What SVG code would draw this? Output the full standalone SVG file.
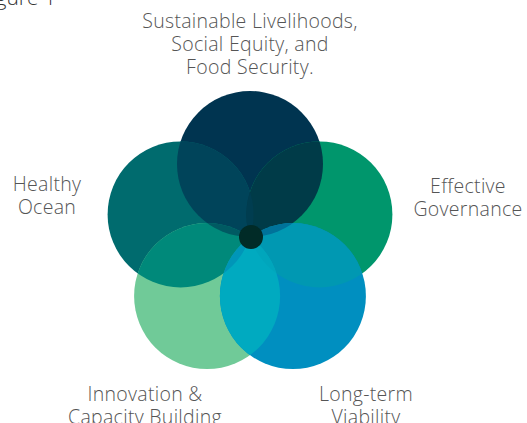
<svg xmlns="http://www.w3.org/2000/svg" width="527" height="423" viewBox="0 0 527 423">
<style>
.lbl{font-family:"Open Sans","Liberation Sans",sans-serif;font-size:19.5px;font-weight:300;letter-spacing:0.3px;fill:#555;text-anchor:middle}
.fig{font-family:"Open Sans","Liberation Sans",sans-serif;font-size:21px;font-weight:300;fill:#333;text-anchor:end}
</style>
<defs>
<clipPath id="cT"><circle cx="250" cy="164" r="73"/></clipPath>
<clipPath id="cR"><circle cx="319.4" cy="214.4" r="73"/></clipPath>
<clipPath id="cBR"><circle cx="292.9" cy="296.1" r="73"/></clipPath>
<clipPath id="cBL"><circle cx="207.1" cy="296.1" r="73"/></clipPath>
<clipPath id="cL"><circle cx="180.6" cy="214.4" r="73"/></clipPath>
</defs>
<rect width="527" height="423" fill="#fff"/>
<text class="fig" x="56" y="5">Figure 1</text>

<g id="node-top">
<circle cx="250" cy="164" r="73" fill="#003450"/>
<text class="lbl" x="250" y="28">Sustainable Livelihoods,</text>
<text class="lbl" x="250" y="51">Social Equity, and</text>
<text class="lbl" x="250" y="74">Food Security.</text>
</g>
<g id="node-right">
<circle cx="319.4" cy="214.4" r="73" fill="#00966c"/>
<text class="lbl" x="468" y="193">Effective</text>
<text class="lbl" x="468" y="216">Governance</text>
</g>
<g id="node-left">
<circle cx="180.6" cy="214.4" r="73" fill="#006b6e"/>
<text class="lbl" x="47" y="191">Healthy</text>
<text class="lbl" x="47" y="214">Ocean</text>
</g>
<g id="node-bottom-left">
<circle cx="207.1" cy="296.1" r="73" fill="#70ca98"/>
<text class="lbl" x="145" y="401">Innovation &amp;</text>
<text class="lbl" x="145" y="424">Capacity Building</text>
</g>
<g id="node-bottom-right">
<circle cx="292.9" cy="296.1" r="73" fill="#008fc0"/>
<text class="lbl" x="366" y="401">Long-term</text>
<text class="lbl" x="366" y="424">Viability</text>
</g>

<g id="overlaps">
<circle cx="180.6" cy="214.4" r="73" fill="#00445a" clip-path="url(#cT)"/>
<circle cx="319.4" cy="214.4" r="73" fill="#003b48" clip-path="url(#cT)"/>
<circle cx="207.1" cy="296.1" r="73" fill="#00897a" clip-path="url(#cL)"/>
<circle cx="292.9" cy="296.1" r="73" fill="#0098b2" clip-path="url(#cR)"/>
<circle cx="292.9" cy="296.1" r="73" fill="#00aac0" clip-path="url(#cBL)"/>
<circle cx="207.1" cy="296.1" r="73" fill="#005a62" clip-path="url(#cT)"/>
<circle cx="292.9" cy="296.1" r="73" fill="#00729a" clip-path="url(#cT)"/>
<circle cx="319.4" cy="214.4" r="73" fill="#003d50" clip-path="url(#cL)"/>
<circle cx="207.1" cy="296.1" r="73" fill="#00a6bc" clip-path="url(#cR)"/>
<circle cx="292.9" cy="296.1" r="73" fill="#0096b8" clip-path="url(#cL)"/>
</g>
<g id="node-center">
<circle cx="251" cy="237" r="12" fill="#012b27"/>
</g>
</svg>
